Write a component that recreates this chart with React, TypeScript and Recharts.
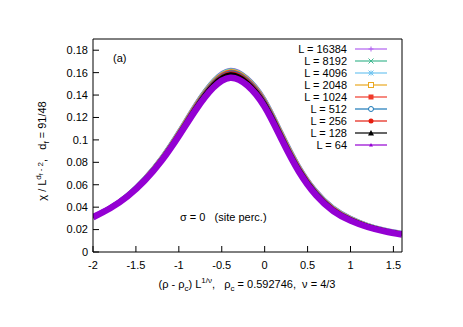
import React from "react"
import { LineChart, Line, XAxis, YAxis } from "recharts"

const xs = [-2, -1.8, -1.6, -1.4, -1.2, -1.0, -0.8, -0.6, -0.4, -0.2, 0.0, 0.2, 0.4, 0.6, 0.8, 1.0, 1.2, 1.4, 1.6]

const l64 = [0.031, 0.039, 0.0495, 0.0635, 0.0815, 0.1035, 0.127, 0.1465, 0.1555, 0.1485, 0.1295, 0.1, 0.0715, 0.0505, 0.0365, 0.028, 0.0223, 0.0184, 0.0156]
const l128 = [0.0315, 0.0395, 0.0502, 0.0645, 0.0828, 0.1052, 0.1292, 0.1492, 0.1585, 0.1513, 0.1325, 0.1028, 0.0738, 0.0523, 0.0379, 0.0291, 0.0232, 0.0192, 0.0163]
const l256 = [0.0318, 0.0399, 0.0507, 0.0652, 0.0837, 0.1063, 0.1306, 0.1507, 0.16, 0.1528, 0.134, 0.1042, 0.075, 0.0533, 0.0387, 0.0297, 0.0237, 0.0196, 0.0167]
const l512 = [0.032, 0.0401, 0.051, 0.0656, 0.0842, 0.107, 0.1314, 0.1515, 0.1609, 0.1537, 0.1349, 0.105, 0.0757, 0.0539, 0.0391, 0.0301, 0.024, 0.0198, 0.0169]
const l1024 = [0.0321, 0.0403, 0.0512, 0.0659, 0.0846, 0.1075, 0.132, 0.1521, 0.1615, 0.1543, 0.1356, 0.1057, 0.0763, 0.0543, 0.0395, 0.0304, 0.0242, 0.02, 0.0171]
const l2048 = [0.0322, 0.0404, 0.0514, 0.0662, 0.0849, 0.1079, 0.1325, 0.1527, 0.162, 0.1549, 0.1362, 0.1063, 0.0768, 0.0547, 0.0398, 0.0307, 0.0244, 0.0202, 0.0173]
const l4096 = [0.0323, 0.0405, 0.0515, 0.0664, 0.0852, 0.1083, 0.1329, 0.1531, 0.1624, 0.1553, 0.1367, 0.1068, 0.0772, 0.055, 0.0401, 0.0309, 0.0246, 0.0204, 0.0175]
const l8192 = [0.0324, 0.0406, 0.0517, 0.0666, 0.0855, 0.1086, 0.1333, 0.1535, 0.1628, 0.1557, 0.1371, 0.1072, 0.0776, 0.0553, 0.0403, 0.0311, 0.0248, 0.0205, 0.0176]
const l16384 = [0.0325, 0.0407, 0.0518, 0.0668, 0.0857, 0.1089, 0.1336, 0.1538, 0.1632, 0.1561, 0.1375, 0.1076, 0.078, 0.0556, 0.0405, 0.0313, 0.0249, 0.0207, 0.0178]

const xTicks = [-2, -1.5, -1, -0.5, 0, 0.5, 1, 1.5]
const yTicks = [0, 0.02, 0.04, 0.06, 0.08, 0.1, 0.12, 0.14, 0.16, 0.18]

// drawn in legend order; L = 64 last so it sits on top
const series = [
  { key: "L16384", label: "L = 16384", values: l16384, color: "#b060f0", width: 2.5 },
  { key: "L8192", label: "L = 8192", values: l8192, color: "#40b890", width: 2.5 },
  { key: "L4096", label: "L = 4096", values: l4096, color: "#70c4f0", width: 2.5 },
  { key: "L2048", label: "L = 2048", values: l2048, color: "#eaa820", width: 2.5 },
  { key: "L1024", label: "L = 1024", values: l1024, color: "#f03a2a", width: 2.5 },
  { key: "L512", label: "L = 512", values: l512, color: "#1a78b8", width: 2.5 },
  { key: "L256", label: "L = 256", values: l256, color: "#e51e10", width: 2.5 },
  { key: "L128", label: "L = 128", values: l128, color: "#000000", width: 4 },
  { key: "L64", label: "L = 64", values: l64, color: "#9400d3", width: 6.5 },
]

const data = xs.map((x, i) => {
  const row: Record<string, number> = { x }
  series.forEach((s) => (row[s.key] = s.values[i]))
  return row
})

const font = "'Liberation Sans', Arial, sans-serif"

function Marker({ i, cx, cy, color }: { i: number; cx: number; cy: number; color: string }) {
  const r = 2.5
  switch (i) {
    case 0:
      return <path d={`M${cx - r} ${cy}H${cx + r}M${cx} ${cy - r}V${cy + r}`} stroke={color} strokeWidth={1} />
    case 1:
      return <path d={`M${cx - r} ${cy - r}L${cx + r} ${cy + r}M${cx - r} ${cy + r}L${cx + r} ${cy - r}`} stroke={color} strokeWidth={1} />
    case 2:
      return <path d={`M${cx - r} ${cy}H${cx + r}M${cx} ${cy - r}V${cy + r}M${cx - r} ${cy - r}L${cx + r} ${cy + r}M${cx - r} ${cy + r}L${cx + r} ${cy - r}`} stroke={color} strokeWidth={1} />
    case 3:
      return <rect x={cx - r} y={cy - r} width={2 * r} height={2 * r} fill="white" stroke={color} strokeWidth={1} />
    case 4:
      return <rect x={cx - r} y={cy - r} width={2 * r} height={2 * r} fill={color} />
    case 5:
      return <circle cx={cx} cy={cy} r={r} fill="white" stroke={color} strokeWidth={1} />
    case 6:
      return <circle cx={cx} cy={cy} r={r} fill={color} />
    case 7:
      return <path d={`M${cx} ${cy - r - 0.5}L${cx + r + 0.5} ${cy + r}L${cx - r - 0.5} ${cy + r}Z`} fill={color} />
    default:
      return <path d={`M${cx} ${cy - 2}L${cx + 2} ${cy + 1.5}L${cx - 2} ${cy + 1.5}Z`} fill={color} />
  }
}

const pre = { whiteSpace: "pre" as const }

export default function App() {
  return (
    <div style={{ position: "absolute", left: 0, top: 0, width: 463, height: 327, background: "#fff" }}>
      <LineChart
        width={463}
        height={327}
        data={data}
        margin={{ top: 38, right: 60, bottom: 35, left: 33 }}
        style={{ fontFamily: font }}
      >
        <XAxis
          xAxisId="b"
          dataKey="x"
          type="number"
          domain={[-2, 1.6]}
          ticks={xTicks}
          allowDataOverflow
          height={40}
          tickSize={-6}
          tickMargin={15}
          axisLine={{ stroke: "#000", strokeWidth: 1 }}
          tickLine={{ stroke: "#000" }}
          tick={{ fill: "#000", fontSize: 11 }}
        />
        <XAxis
          xAxisId="t"
          dataKey="x"
          type="number"
          orientation="top"
          domain={[-2, 1.6]}
          ticks={xTicks}
          allowDataOverflow
          height={1}
          tickSize={-6}
          axisLine={{ stroke: "#000", strokeWidth: 1 }}
          tickLine={{ stroke: "#000" }}
          tick={false}
        />
        <YAxis
          yAxisId="l"
          type="number"
          domain={[0, 0.19]}
          ticks={yTicks}
          allowDataOverflow
          width={60}
          tickSize={-6}
          tickMargin={11}
          axisLine={{ stroke: "#000", strokeWidth: 1 }}
          tickLine={{ stroke: "#000" }}
          tick={{ fill: "#000", fontSize: 11 }}
        />
        <YAxis
          yAxisId="r"
          orientation="right"
          type="number"
          domain={[0, 0.19]}
          ticks={yTicks}
          allowDataOverflow
          width={1}
          tickSize={-6}
          axisLine={{ stroke: "#000", strokeWidth: 1 }}
          tickLine={{ stroke: "#000" }}
          tick={false}
        />
        {series.map((s) => (
          <Line
            key={s.key}
            xAxisId="b"
            yAxisId="l"
            type="natural"
            dataKey={s.key}
            stroke={s.color}
            strokeWidth={s.width}
            dot={false}
            isAnimationActive={false}
          />
        ))}
      </LineChart>
      <svg
        width={463}
        height={327}
        style={{ position: "absolute", left: 0, top: 0, pointerEvents: "none", fontFamily: font }}
      >
        <text x={113} y={62} fontSize={11}>(a)</text>
        {series.map((s, i) => {
          const y = 49 + i * 12
          return (
            <g key={s.key}>
              <text x={347} y={y + 4} fontSize={11} textAnchor="end">{s.label}</text>
              <line x1={355} x2={387} y1={y} y2={y} stroke={s.color} strokeWidth={1.2} />
              <Marker i={i} cx={371} cy={y} color={s.color} />
            </g>
          )
        })}
        <text x={180} y={221} fontSize={11} style={pre}>σ = 0   (site perc.)</text>
        <text x={247} y={288} fontSize={11} textAnchor="middle" style={pre}>
          (ρ - ρ<tspan fontSize={8} dy={3}>c</tspan>
          <tspan dy={-3}>) L</tspan>
          <tspan fontSize={8} dy={-5}>1/ν</tspan>
          <tspan dy={5}>,   ρ</tspan>
          <tspan fontSize={8} dy={3}>c</tspan>
          <tspan dy={-3}> = 0.592746,  ν = 4/3</tspan>
        </text>
        <text x={46} y={151} fontSize={11} textAnchor="middle" transform="rotate(-90 46 151)" style={pre}>
          χ / L<tspan fontSize={8} dy={-5}>d</tspan>
          <tspan fontSize={6} dy={2}>f</tspan>
          <tspan fontSize={8} dy={0}> - 2</tspan>
          <tspan dy={3}>,   d</tspan>
          <tspan fontSize={8} dy={3}>f</tspan>
          <tspan dy={-3}> = 91/48</tspan>
        </text>
      </svg>
    </div>
  )
}
